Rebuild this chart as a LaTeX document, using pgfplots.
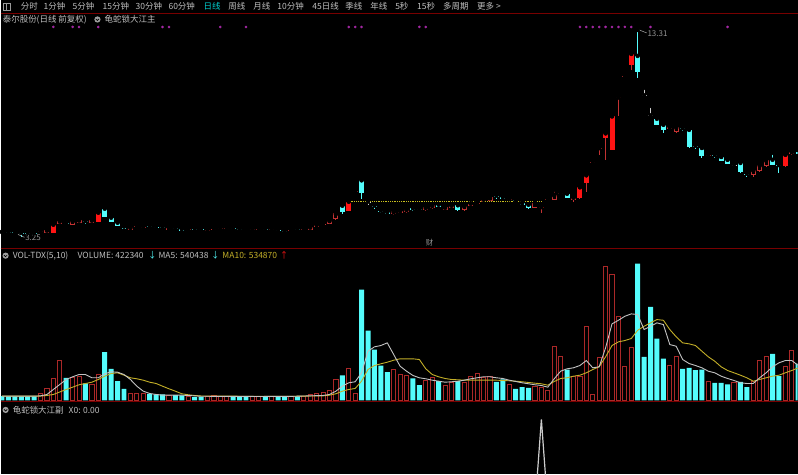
\documentclass[border=0pt]{standalone}
\usepackage{pgfplots}
\usepackage{pgfplotstable}
\pgfplotsset{compat=1.18}
\usepackage{fontspec}
\setmainfont{Noto Sans CJK SC}

\definecolor{cyanC}{RGB}{84,252,252}
\definecolor{redF}{RGB}{255,20,20}
\definecolor{redD}{RGB}{195,50,50}
\definecolor{volRed}{RGB}{170,40,40}
\definecolor{grayC}{RGB}{205,205,205}
\definecolor{sepRed}{RGB}{120,0,0}
\definecolor{txt}{RGB}{190,190,190}
\definecolor{maTen}{RGB}{195,175,40}
\definecolor{maFive}{RGB}{195,195,195}
\definecolor{purp}{RGB}{165,40,165}
\definecolor{selC}{RGB}{0,205,205}
\definecolor{lineY}{RGB}{200,190,30}

% ---------- candles: cyan (down) ----------
\pgfplotstableread{
i o h l c
0 3.48 3.50 3.40 3.43
1 3.48 3.50 3.42 3.43
2 3.47 3.49 3.40 3.43
3 3.45 3.47 3.25 3.40
4 3.45 3.47 3.40 3.42
5 3.43 3.45 3.36 3.38
10 3.93 3.95 3.85 3.88
13 4.03 4.20 3.90 3.98
16 4.65 4.80 4.22 4.25
17 4.20 4.35 3.98 4.00
18 3.95 3.97 3.78 3.80
19 3.75 3.77 3.63 3.65
23 3.78 3.83 3.68 3.73
24 3.75 3.77 3.68 3.70
25 3.73 3.78 3.63 3.68
27 3.68 3.70 3.61 3.63
28 3.63 3.65 3.53 3.55
30 3.65 3.67 3.58 3.60
31 3.63 3.65 3.56 3.58
36 3.68 3.70 3.60 3.63
37 3.63 3.65 3.56 3.58
38 3.63 3.65 3.56 3.58
41 3.63 3.65 3.56 3.58
43 3.60 3.62 3.53 3.55
44 3.53 3.55 3.45 3.48
46 3.63 3.65 3.56 3.58
53 4.80 4.82 4.40 4.50
56 6.07 6.10 5.15 5.44
58 4.80 4.85 4.64 4.73
59 4.55 4.60 4.44 4.49
60 4.47 4.50 4.38 4.40
64 4.67 4.73 4.55 4.60
65 4.63 4.65 4.55 4.58
68 4.85 4.87 4.73 4.75
71 4.82 4.85 4.55 4.57
77 5.30 5.38 5.15 5.23
78 5.23 5.25 5.12 5.15
80 5.08 5.10 5.00 5.03
81 4.93 4.95 4.83 4.85
82 4.85 4.87 4.66 4.69
88 5.40 5.42 5.18 5.20
99 12.30 13.60 11.19 11.52
102 9.15 9.27 8.83 8.85
103 8.85 8.87 8.43 8.57
106 8.68 8.75 8.55 8.63
107 8.60 8.62 7.70 7.72
108 7.80 7.90 7.64 7.74
109 7.69 7.71 7.19 7.30
111 7.33 7.40 7.20 7.28
112 7.24 7.26 7.03 7.05
113 7.10 7.12 6.88 6.90
115 6.94 7.05 6.45 6.47
116 6.40 6.50 6.25 6.35
120 7.10 7.45 6.83 6.85
121 6.83 6.95 6.45 6.78
124 7.50 7.52 7.38 7.40
}\cyT

% ---------- candles: bright red filled ----------
\pgfplotstableread{
i o h l c
8 3.45 3.87 3.43 3.85
15 4.00 4.47 3.98 4.45
54 4.55 5.02 4.53 5.00
84 4.68 4.85 4.45 4.73
90 5.18 5.74 5.16 5.72
91 5.93 6.34 5.47 6.32
94 8.18 8.44 7.07 8.42
95 7.60 9.29 7.58 9.27
98 11.85 12.42 11.60 12.40
122 6.77 7.37 6.75 7.35
}\rfT

% ---------- candles: red hollow ----------
\pgfplotstableread{
i o h l c
7 3.45 3.70 3.43 3.60
9 3.90 4.20 3.88 4.05
11 3.85 4.07 3.83 4.05
12 3.95 4.12 3.93 4.10
14 3.95 4.12 3.93 4.10
20 3.60 3.75 3.58 3.73
26 3.58 3.72 3.56 3.70
48 3.60 3.77 3.58 3.75
51 3.90 4.10 3.88 4.08
52 4.13 4.45 4.11 4.43
61 4.37 4.54 4.35 4.52
63 4.48 4.65 4.46 4.63
66 4.58 4.75 4.56 4.73
67 4.68 4.85 4.66 4.83
69 4.60 4.76 4.58 4.74
72 4.57 4.82 4.55 4.80
76 5.05 5.24 5.03 5.22
83 4.69 4.96 4.67 4.94
86 5.10 5.60 5.08 5.35
105 8.47 8.77 8.45 8.75
117 6.35 6.62 6.25 6.60
118 6.52 7.00 6.50 6.85
119 6.77 7.12 6.75 7.10
}\holT

% ---------- candles: small red ----------
\pgfplotstableread{
i o h l c
6 3.48 3.55 3.46 3.53
21 3.73 3.80 3.71 3.78
22 3.70 3.77 3.68 3.75
29 3.58 3.65 3.56 3.63
32 3.55 3.62 3.53 3.60
33 3.60 3.67 3.58 3.65
34 3.63 3.70 3.61 3.68
35 3.63 3.70 3.61 3.68
39 3.58 3.65 3.56 3.63
40 3.58 3.65 3.56 3.63
42 3.58 3.65 3.56 3.63
45 3.53 3.60 3.51 3.58
47 3.58 3.65 3.56 3.63
49 3.75 3.85 3.73 3.83
50 3.83 3.92 3.81 3.90
55 5.48 5.55 5.46 5.53
62 4.45 4.55 4.43 4.53
70 4.70 4.82 4.68 4.80
73 4.80 4.92 4.78 4.90
74 4.88 4.97 4.86 4.95
75 5.00 5.12 4.98 5.10
79 5.08 5.15 5.06 5.13
85 5.08 5.15 5.06 5.13
87 5.38 5.45 5.36 5.43
89 5.10 5.22 5.00 5.20
92 6.95 7.02 6.93 7.00
93 7.63 7.70 7.35 7.68
96 10.17 10.24 9.27 10.22
97 11.25 11.32 11.23 11.30
104 8.65 8.75 8.63 8.73
110 7.28 7.37 7.26 7.35
123 7.38 7.50 7.36 7.48
}\rsT

% ---------- candles: gray ----------
\pgfplotstableread{
i o h l c
57 4.95 5.07 4.85 5.00
100 10.28 10.70 10.26 10.33
101 9.28 9.80 9.26 9.33
114 6.80 7.00 6.78 6.85
}\grT

% ---------- volume (red = up, cyan = down) ----------
\pgfplotstableread{
i v
6 6.7
7 11.7
8 22
9 40
11 22.7
12 24.3
14 16
15 26
20 6.7
21 6.7
22 6.7
26 5.3
29 4.3
32 4.3
33 5.3
34 4
35 4
39 4
40 4
42 4
45 4.3
47 4.5
48 6
49 6.7
50 7.7
51 10
52 21
54 31.7
55 6.7
61 31
62 26
63 25
66 20.3
67 22.7
69 15
70 17.7
72 17.7
73 23.7
74 26.7
75 22.7
76 23.7
79 16
83 14.3
84 13.3
85 10
86 53.7
87 44.3
89 24.3
90 24.3
91 73.7
92 6
93 42.7
94 133.7
95 126
96 83.7
97 34.3
98 53.3
104 35
105 43.7
110 18.7
114 18.3
117 18.7
118 40
119 43.7
122 34.3
123 50
}\vR

\pgfplotstableread{
i v
0 4.3
1 4
2 4
3 4
4 4
5 4
10 22.7
13 17
16 48.3
17 31.7
18 19.3
19 11.7
23 6.7
24 6
25 6
27 5.3
28 5
30 3.3
31 3.7
36 3.5
37 3.5
38 3.5
41 3.5
43 3.5
44 3.5
46 4
53 25
56 111
57 70
58 51
59 35
60 28.3
64 22
65 15.3
68 19.3
71 19.3
77 18.7
78 21
80 11.7
81 13.3
82 12.7
88 31
99 137
100 43.7
101 93.7
102 62
103 42
106 31.7
107 32.7
108 30.3
109 31
111 17.7
112 17.7
113 16
115 18.7
116 13.3
120 46.7
121 24.3
124 37
}\vC

\pgfplotstableread{
i m5 m10
0 4.3 4.3
5 4.3 4.3
6 4.6 4.4
7 6 5
8 11 6
9 16 8.5
10 21 11
11 23.7 13.3
12 26 15.7
13 26 17
14 22.7 18.3
15 22.7 21
16 26.7 24.3
17 28.7 27
18 28.3 27.7
19 26 25.3
20 21 22.7
21 14.3 21.7
22 9.3 20.3
23 7 18.3
24 6 17
25 5.3 14.3
26 5.3 11.7
27 5.3 9.3
28 5.3 6.7
29 5 5.7
30 4.6 5
31 4.2 4.5
35 4.1 4.3
40 4.0 4.2
45 4.1 4.2
50 5 4.6
51 6 5.3
52 9.3 6.7
53 14.3 9.3
54 17.7 11
55 18.7 12
56 27.7 19.3
57 49.3 31
58 53.7 35
59 55 36.7
60 57.7 38.3
61 46 40.3
62 34.3 41.7
63 29.3 41.7
64 25 41.7
65 22.7 41
66 21.7 31.7
67 20.3 26
68 19.3 23.7
69 18.3 22
70 18.7 21
71 19.3 20.7
72 20.3 20.3
73 21.7 20.3
74 22.7 20.3
75 23.7 20.3
76 23.7 20.3
77 22.7 20.3
78 22 20
79 20.3 19.7
80 19 19.3
81 17.7 18.7
82 16.7 18
83 15.7 17.3
84 15 16.7
85 13.3 15.3
86 21.7 19
87 29.3 22
88 31.7 22.7
89 32.7 24.3
90 35 25.3
91 40 27.7
92 32.7 31
93 33.7 33.7
94 52.7 43.7
95 76.7 55
96 80.3 58.7
97 84.3 60
98 86.7 62
99 86 70.3
100 71 74.3
101 74.3 77.7
102 77.7 81
103 76 80.3
104 56 71
105 54.3 63.7
106 41 57.7
107 37 56.7
108 35 55
109 32.7 49.3
110 29.3 43.7
111 27.7 39.3
112 24.3 33.7
113 22 30
114 20 27.7
115 17.7 25.3
116 17 22.7
117 17 19.3
118 22.7 21
119 27.7 22.7
120 33.7 24.3
121 37.7 25.3
122 40 27.7
123 40 30
124 35 32.7
}\maT

\pgfplotsset{
  panel/.style={scale only axis, width=798pt, xmin=-0.2177, xmax=123.89, hide axis, clip=true},
  wick/.style={only marks, mark=none, error bars/.cd, y dir=minus, y explicit, error mark=none,
     error bar style={line width=1pt, draw=#1, solid}},
  body/.style={only marks, mark=none, error bars/.cd, y dir=minus, y explicit, error mark=none,
     error bar style={line width=5pt, draw=#1, solid}},
  inner/.style={only marks, mark=none, error bars/.cd, y dir=minus, y explicit, error mark=none,
     error bar style={line width=3.2pt, draw=black, solid}},
}
\newcommand\sm{\fontsize{8.5pt}{10pt}\selectfont}
\newcommand\lbl[4]{\node[anchor=west, inner sep=0pt, text=#3, font=\sm] at (#1pt,-#2pt) {#4};}
\newcommand\dropicon[2]{\fill[gray!75] (#1pt,-#2pt) circle (3.1pt);
  \draw[black, line width=0.7pt] (#1pt-1.6pt,-#2pt+0.6pt) -- (#1pt,-#2pt-1.0pt) -- (#1pt+1.6pt,-#2pt+0.6pt);}

\begin{document}
\begin{tikzpicture}
\fill[black] (0pt,0pt) rectangle (798pt,-475pt);

% ---------- main price panel ----------
\begin{axis}[panel, height=224pt, at={(0pt,-248pt)}, anchor=south west, ymin=2.7, ymax=13.9]
  % wicks
  \addplot[wick=cyanC] table[x=i, y=h, y error expr=\thisrow{h}-\thisrow{l}] \cyT;
  \addplot[wick=redD]  table[x=i, y=h, y error expr=\thisrow{h}-\thisrow{l}] \rfT;
  \addplot[wick=redD]  table[x=i, y=h, y error expr=\thisrow{h}-\thisrow{l}] \holT;
  \addplot[wick=redD]  table[x=i, y=h, y error expr=\thisrow{h}-\thisrow{l}] \rsT;
  \addplot[wick=grayC] table[x=i, y=h, y error expr=\thisrow{h}-\thisrow{l}] \grT;
  % bodies
  \addplot[body=cyanC] table[x=i, y=o, y error expr=\thisrow{o}-\thisrow{c}] \cyT;
  \addplot[body=redF]  table[x=i, y=c, y error expr=\thisrow{c}-\thisrow{o}] \rfT;
  \addplot[body=redD]  table[x=i, y=c, y error expr=\thisrow{c}-\thisrow{o}] \holT;
  \addplot[inner]      table[x=i, y expr=\thisrow{c}-0.05, y error expr=\thisrow{c}-\thisrow{o}-0.1] \holT;
  \addplot[body=redD]  table[x=i, y=c, y error expr=\thisrow{c}-\thisrow{o}] \rsT;
  \addplot[body=grayC] table[x=i, y=c, y error expr=\thisrow{c}-\thisrow{o}] \grT;
  % yellow level line
  \addplot[lineY, line width=1.3pt, dash pattern=on 1pt off 0.8pt] coordinates {(54,5.0) (84,5.0)};
  % purple signal dots
  \addplot[only marks, mark=*, mark size=1.1pt, purp] coordinates {
    (8,13.75) (11,13.75) (12,13.75) (15,13.75) (25,13.75) (26,13.75) (34,13.75) (38,13.75)
    (54,13.75) (55,13.75) (56,13.75) (65,13.75) (66,13.75)
    (90,13.75) (91,13.75) (92,13.75) (93,13.75) (94,13.75) (95,13.75) (96,13.75) (97,13.75) (98,13.75)
    (101,13.75) (113,13.75)};
  % annotations
  \draw[gray!80, line width=0.6pt] (axis cs:99,13.6) -- (axis cs:99.25,13.6) -- (axis cs:100.4,13.45);
  \node[anchor=west, inner sep=0pt, text=gray!85, font=\fontsize{8pt}{9pt}\selectfont] at (axis cs:100.5,13.43) {13.31};
  \draw[gray!80, line width=0.6pt] (axis cs:2.5,3.36) -- (axis cs:3.5,3.22);
  \node[anchor=west, inner sep=0pt, text=gray!85, font=\fontsize{8pt}{9pt}\selectfont] at (axis cs:3.6,3.18) {3.25};
  \node[inner sep=0pt, text=gray!85, font=\fontsize{7.5pt}{9pt}\selectfont] at (axis cs:66.6,2.95) {财};
\end{axis}

% ---------- volume panel ----------
\begin{axis}[panel, height=152pt, at={(0pt,-402pt)}, anchor=south west, ymin=-1, ymax=151]
  \addplot[ybar, bar width=4.2pt, bar shift=0pt, draw=volRed, fill=black, line width=0.9pt] table[x=i, y=v] \vR;
  \addplot[ybar, bar width=5pt, bar shift=0pt, fill=cyanC, draw=none] table[x=i, y=v] \vC;
  \addplot[maTen, line width=0.9pt] table[x=i, y=m10] \maT;
  \addplot[maFive, line width=0.9pt] table[x=i, y=m5] \maT;
\end{axis}

% ---------- sub indicator panel ----------
\begin{axis}[panel, height=72pt, at={(0pt,-475pt)}, anchor=south west, ymin=0.375, ymax=1.193]
  \addplot[grayC, line width=1.2pt] coordinates {(0,0) (83,0) (84,1) (85,0) (124,0)};
\end{axis}

% ---------- separators ----------
\draw[sepRed, line width=1pt] (0pt,-13.5pt) -- (798pt,-13.5pt);
\draw[sepRed, line width=1pt] (0pt,-249pt) -- (798pt,-249pt);
\draw[sepRed, line width=1pt] (0pt,-402.5pt) -- (798pt,-402.5pt);

% ---------- menu ----------
\draw[gray!80, line width=0.7pt] (3pt,-3pt) rectangle (10pt,-10.5pt);
\draw[gray!80, line width=0.7pt] (5.5pt,-3pt) -- (5.5pt,-10.5pt);
\lbl{20}{6.5}{txt}{分时}
\lbl{43}{6.5}{txt}{1分钟}
\lbl{72}{6.5}{txt}{5分钟}
\lbl{102}{6.5}{txt}{15分钟}
\lbl{135}{6.5}{txt}{30分钟}
\lbl{168}{6.5}{txt}{60分钟}
\lbl{203}{6.5}{selC}{日线}
\lbl{228}{6.5}{txt}{周线}
\lbl{253}{6.5}{txt}{月线}
\lbl{277}{6.5}{txt}{10分钟}
\lbl{312}{6.5}{txt}{45日线}
\lbl{345}{6.5}{txt}{季线}
\lbl{370}{6.5}{txt}{年线}
\lbl{395}{6.5}{txt}{5秒}
\lbl{417}{6.5}{txt}{15秒}
\lbl{443}{6.5}{txt}{多周期}
\lbl{477}{6.5}{txt}{更多 >}

% ---------- panel titles ----------
\lbl{2}{19.5}{txt}{泰尔股份(日线 前复权)}
\dropicon{97}{19.5}
\lbl{104}{19.5}{txt}{龟蛇锁大江主}

\dropicon{5}{256}
\lbl{12}{256}{txt}{VOL-TDX(5,10)}
\lbl{77}{256}{txt}{VOLUME: 422340}
\lbl{147.5}{256}{cyanC}{↓}
\lbl{158}{256}{txt}{MA5: 540438}
\lbl{210.5}{256}{cyanC}{↓}
\lbl{222}{256}{maTen}{MA10: 534870}
\lbl{279.5}{256}{redF}{↑}

\dropicon{5}{410.5}
\lbl{12}{410.5}{txt}{龟蛇锁大江副}
\lbl{68}{410.5}{txt}{X0: 0.00}
\end{tikzpicture}
\end{document}
